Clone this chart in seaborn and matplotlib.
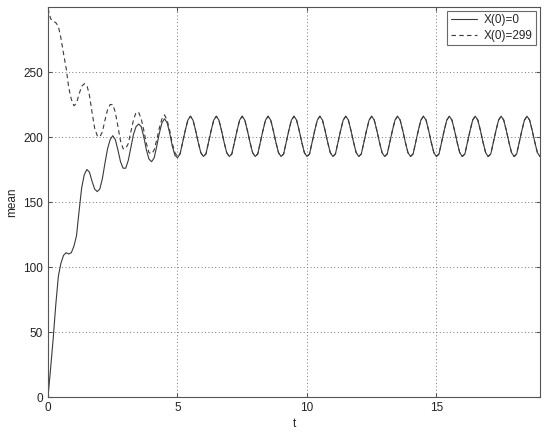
import numpy as np
import pandas as pd
import matplotlib
matplotlib.use("Agg")
import matplotlib.pyplot as plt
import seaborn as sns

# time grid, step 0.1 from 0 to 19
t = np.round(np.arange(0, 190 + 1) * 0.1, 1)

# mean for X(0)=0
x0_start = [0, 22, 45, 71, 93, 103, 109, 111, 110, 111,
            116, 124, 143, 161, 171, 175, 173, 166, 160, 158,
            160, 168, 180, 191, 198, 201, 198, 190, 181, 176,
            176, 182, 192, 202, 208, 210, 208, 200, 190, 183,
            181, 184, 193, 203, 211, 214, 211, 203, 193, 186,
            184]

# mean for X(0)=299
x299_start = [299, 291, 289, 288, 285, 276, 264, 253, 238, 229,
              224, 226, 233, 239, 241, 240, 232, 219, 207, 201,
              200, 204, 213, 221, 225, 225, 219, 208, 197, 191,
              191, 195, 204, 213, 219, 219, 214, 205, 195, 188,
              187, 190, 198, 207, 214, 217, 213, 205, 195, 188,
              185]

# steady oscillation after t=5 (both curves overlap)
steady = [187, 196, 205, 213, 216, 213, 205, 196, 188, 185,
          187, 196, 205, 213, 216, 213, 205, 196, 188, 185,
          187, 196, 205, 213, 216, 213, 205, 196, 188, 185,
          187, 196, 205, 213, 216, 213, 205, 196, 188, 185,
          187, 196, 205, 213, 216, 213, 205, 196, 188, 185,
          187, 196, 205, 213, 216, 213, 205, 196, 188, 185,
          187, 196, 205, 213, 216, 213, 205, 196, 188, 185,
          187, 196, 205, 213, 216, 213, 205, 196, 188, 185,
          187, 196, 205, 213, 216, 213, 205, 196, 188, 185,
          187, 196, 205, 213, 216, 213, 205, 196, 188, 185,
          187, 196, 205, 213, 216, 213, 205, 196, 188, 185,
          187, 196, 205, 213, 216, 213, 205, 196, 188, 185,
          187, 196, 205, 213, 216, 213, 205, 196, 188, 185,
          187, 196, 205, 213, 216, 213, 205, 196, 188, 185]

x_ticks = [0, 5, 10, 15]
y_ticks = [0, 50, 100, 150, 200, 250]

df = pd.DataFrame({
    "t": t,
    "X(0)=0": x0_start + steady,
    "X(0)=299": x299_start + steady,
})

sns.set_style("ticks")
plt.rcParams["font.family"] = ["Liberation Sans", "DejaVu Sans"]

fig = plt.figure(figsize=(5.5, 4.33), dpi=100)
ax = fig.add_axes([0.0873, 0.0831, 0.8945, 0.9007])

line_col = "#3a3a3a"
sns.lineplot(data=df, x="t", y="X(0)=299", ax=ax, color=line_col,
             linewidth=0.8, label="X(0)=299")
sns.lineplot(data=df, x="t", y="X(0)=0", ax=ax, color=line_col,
             linewidth=0.8, label="X(0)=0")
ax.lines[0].set_dashes([4, 3])

ax.set_xlim(0, 19)
ax.set_ylim(0, 300)
ax.set_xticks(x_ticks)
ax.set_yticks(y_ticks)
ax.grid(True, linestyle=(0, (1, 2.5)), color="#777777", linewidth=0.7)
ax.tick_params(direction="in", length=3, color="#555555", labelsize=8.5,
               top=True, right=True, labelcolor="#222222")
for s in ax.spines.values():
    s.set_color("#555555")
    s.set_linewidth(0.8)

ax.set_xlabel("t", fontsize=8.5, labelpad=3)
ax.set_ylabel("mean", fontsize=8.5, labelpad=4)

h, l = ax.get_legend_handles_labels()
leg = ax.legend(h[::-1], l[::-1], loc="upper right", fontsize=8.5,
                frameon=True, fancybox=False, borderaxespad=0.3,
                handlelength=2.2, handletextpad=0.6, borderpad=0.3,
                labelspacing=0.3)
leg.get_frame().set_edgecolor("#444444")
leg.get_frame().set_linewidth(0.8)

fig.savefig("out.png", dpi=100)
